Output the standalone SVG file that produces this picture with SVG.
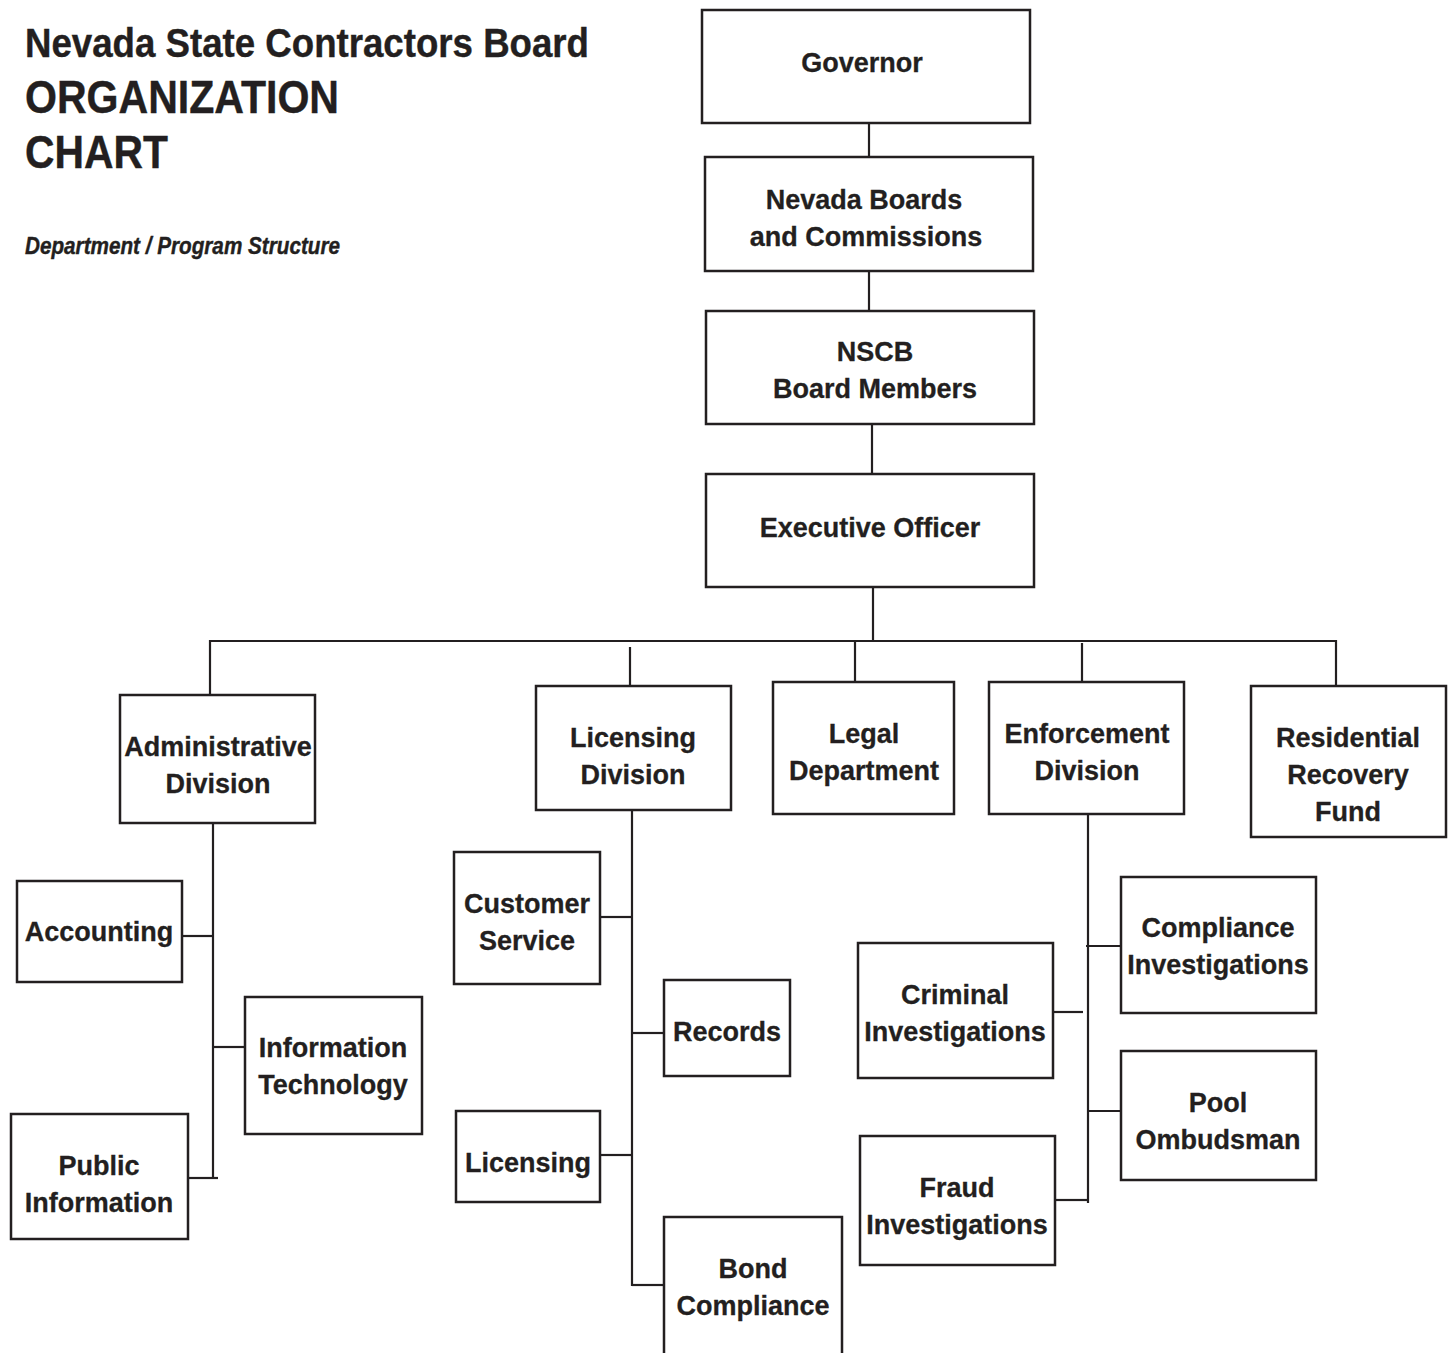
<svg xmlns="http://www.w3.org/2000/svg" width="1450" height="1353" viewBox="0 0 1450 1353">
<style>
.box{fill:#fff;stroke:#231f20;stroke-width:2.5}
.ln{stroke:#231f20;stroke-width:2.2;fill:none}
.t{font-family:"Liberation Sans",Arial,sans-serif;font-weight:bold;font-size:27px;fill:#231f20;stroke:#231f20;stroke-width:0.3;text-anchor:middle}
.ttl{font-family:"Liberation Sans",Arial,sans-serif;font-weight:bold;fill:#231f20;stroke:#231f20;stroke-width:0.4}
</style>
<rect width="1450" height="1353" fill="#fff"/>
<g id="title">
<text class="ttl" x="25" y="57" font-size="40" textLength="564" lengthAdjust="spacingAndGlyphs">Nevada State Contractors Board</text>
<text class="ttl" x="25" y="113" font-size="47" textLength="314" lengthAdjust="spacingAndGlyphs">ORGANIZATION</text>
<text class="ttl" x="25" y="168" font-size="47" textLength="143" lengthAdjust="spacingAndGlyphs">CHART</text>
<text class="ttl" x="25" y="254" font-size="23" font-style="italic" textLength="315" lengthAdjust="spacingAndGlyphs">Department / Program Structure</text>
</g>
<g id="connectors">
<line class="ln" x1="869" y1="123" x2="869" y2="165"/>
<line class="ln" x1="869" y1="271" x2="869" y2="311"/>
<line class="ln" x1="872" y1="424" x2="872" y2="474"/>
<line class="ln" x1="873" y1="587" x2="873" y2="641"/>
<line class="ln" x1="209" y1="641" x2="1337" y2="641"/>
<line class="ln" x1="210" y1="640" x2="210" y2="695"/>
<line class="ln" x1="630" y1="647" x2="630" y2="693"/>
<line class="ln" x1="855" y1="641" x2="855" y2="688"/>
<line class="ln" x1="1082" y1="643" x2="1082" y2="690"/>
<line class="ln" x1="1336" y1="640" x2="1336" y2="686"/>
<line class="ln" x1="213" y1="823" x2="213" y2="1178"/>
<line class="ln" x1="182" y1="936" x2="213" y2="936"/>
<line class="ln" x1="213" y1="1047" x2="245" y2="1047"/>
<line class="ln" x1="186" y1="1178" x2="218" y2="1178"/>
<line class="ln" x1="632" y1="810" x2="632" y2="1286"/>
<line class="ln" x1="601" y1="917" x2="632" y2="917"/>
<line class="ln" x1="632" y1="1033" x2="664" y2="1033"/>
<line class="ln" x1="601" y1="1155" x2="632" y2="1155"/>
<line class="ln" x1="632" y1="1285" x2="664" y2="1285"/>
<line class="ln" x1="1088" y1="814" x2="1088" y2="1203"/>
<line class="ln" x1="1086" y1="946" x2="1121" y2="946"/>
<line class="ln" x1="1053" y1="1012" x2="1083" y2="1012"/>
<line class="ln" x1="1088" y1="1111" x2="1121" y2="1111"/>
<line class="ln" x1="1055" y1="1200" x2="1087" y2="1200"/>
</g>
<g id="governor"><rect class="box" x="702" y="10" width="328" height="113"/><text class="t" x="862" y="72">Governor</text></g>
<g id="boards"><rect class="box" x="705" y="157" width="328" height="114"/><text class="t" x="864" y="209">Nevada Boards</text><text class="t" x="866" y="246">and Commissions</text></g>
<g id="nscb"><rect class="box" x="706" y="311" width="328" height="113"/><text class="t" x="875" y="361">NSCB</text><text class="t" x="875" y="398">Board Members</text></g>
<g id="executive"><rect class="box" x="706" y="474" width="328" height="113"/><text class="t" x="870" y="537">Executive Officer</text></g>
<g id="admin"><rect class="box" x="120" y="695" width="195" height="128"/><text class="t" x="218" y="756">Administrative</text><text class="t" x="218" y="793">Division</text></g>
<g id="licensingdiv"><rect class="box" x="536" y="686" width="195" height="124"/><text class="t" x="633" y="747">Licensing</text><text class="t" x="633" y="784">Division</text></g>
<g id="legal"><rect class="box" x="773" y="682" width="181" height="132"/><text class="t" x="864" y="743">Legal</text><text class="t" x="864" y="780">Department</text></g>
<g id="enforcement"><rect class="box" x="989" y="682" width="195" height="132"/><text class="t" x="1087" y="743">Enforcement</text><text class="t" x="1087" y="780">Division</text></g>
<g id="residential"><rect class="box" x="1251" y="686" width="195" height="151"/><text class="t" x="1348" y="747">Residential</text><text class="t" x="1348" y="784">Recovery</text><text class="t" x="1348" y="821">Fund</text></g>
<g id="accounting"><rect class="box" x="17" y="881" width="165" height="101"/><text class="t" x="99" y="941">Accounting</text></g>
<g id="it"><rect class="box" x="245" y="997" width="177" height="137"/><text class="t" x="333" y="1057">Information</text><text class="t" x="333" y="1094">Technology</text></g>
<g id="public"><rect class="box" x="11" y="1114" width="177" height="125"/><text class="t" x="99" y="1175">Public</text><text class="t" x="99" y="1212">Information</text></g>
<g id="customer"><rect class="box" x="454" y="852" width="146" height="132"/><text class="t" x="527" y="913">Customer</text><text class="t" x="527" y="950">Service</text></g>
<g id="records"><rect class="box" x="664" y="980" width="126" height="96"/><text class="t" x="727" y="1041">Records</text></g>
<g id="licensing"><rect class="box" x="456" y="1111" width="144" height="91"/><text class="t" x="528" y="1172">Licensing</text></g>
<g id="bond"><rect class="box" x="664" y="1217" width="178" height="150"/><text class="t" x="753" y="1278">Bond</text><text class="t" x="753" y="1315">Compliance</text></g>
<g id="compliance"><rect class="box" x="1121" y="877" width="195" height="136"/><text class="t" x="1218" y="937">Compliance</text><text class="t" x="1218" y="974">Investigations</text></g>
<g id="criminal"><rect class="box" x="858" y="943" width="195" height="135"/><text class="t" x="955" y="1004">Criminal</text><text class="t" x="955" y="1041">Investigations</text></g>
<g id="pool"><rect class="box" x="1121" y="1051" width="195" height="129"/><text class="t" x="1218" y="1112">Pool</text><text class="t" x="1218" y="1149">Ombudsman</text></g>
<g id="fraud"><rect class="box" x="860" y="1136" width="195" height="129"/><text class="t" x="957" y="1197">Fraud</text><text class="t" x="957" y="1234">Investigations</text></g>
</svg>
